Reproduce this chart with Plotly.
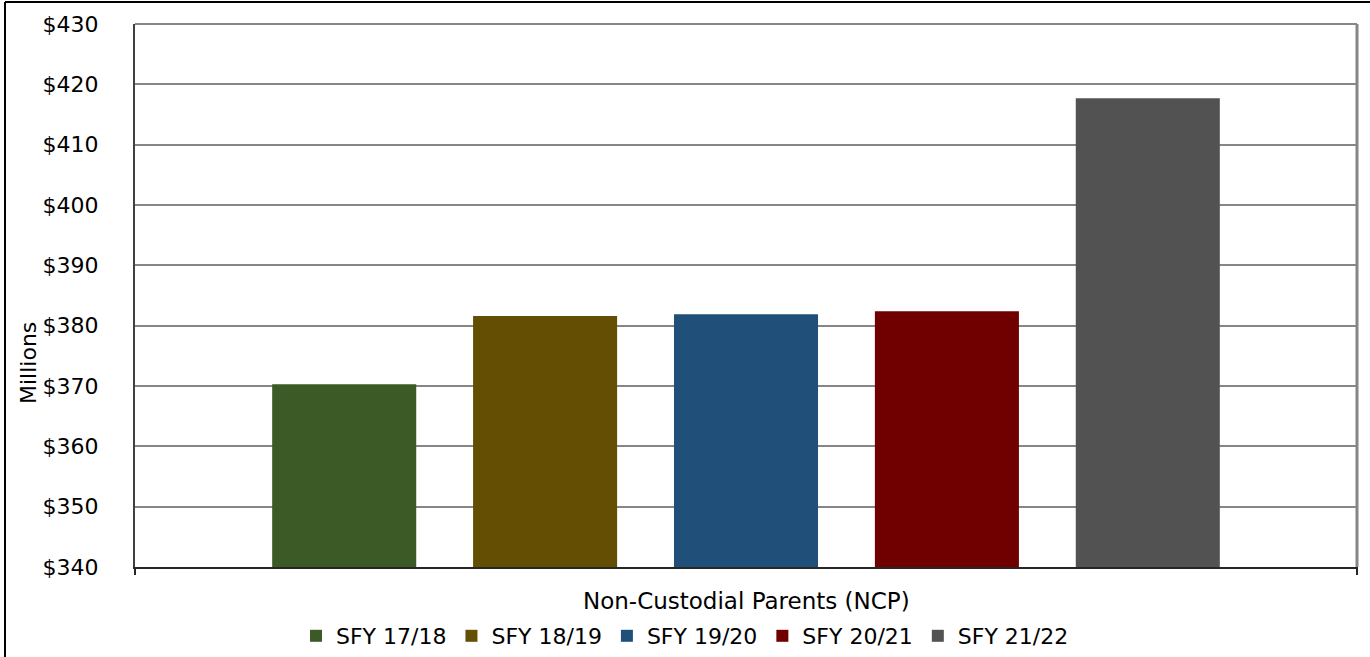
import plotly.graph_objects as go

category = ["Non-Custodial Parents (NCP)"]
series_names = ["SFY 17/18", "SFY 18/19", "SFY 19/20", "SFY 20/21", "SFY 21/22"]
series_values = [370.3, 381.6, 381.9, 382.4, 417.7]
colors = ["#3C5A26", "#634E03", "#20507A", "#700000", "#525252"]
y_ticks = [340, 350, 360, 370, 380, 390, 400, 410, 420, 430]

FONT = "DejaVu Sans, sans-serif"
FS = 22

W, H = 1370, 657
ML, MR, MT, MB = 135, 13, 24, 90
PW, PH = W - ML - MR, H - MT - MB

fig = go.Figure()
for name, val, col in zip(series_names, series_values, colors):
    fig.add_trace(go.Bar(
        x=category, y=[val], name=name, marker=dict(color=col, line=dict(width=0)),
        hoverinfo="name+y",
    ))

fig.update_layout(
    width=W, height=H,
    margin=dict(l=ML, r=MR, t=MT, b=MB, autoexpand=False),
    paper_bgcolor="white", plot_bgcolor="white",
    barmode="group", bargap=0.178, bargroupgap=0.283,
    font=dict(family=FONT, size=FS, color="#000000"),
    showlegend=True,
    legend=dict(orientation="h", x=0.5, xanchor="center", xref="container",
                y=1 - 636 / H, yanchor="middle",
                yref="container", font=dict(size=FS), itemclick=False,
                traceorder="normal"),
    xaxis=dict(showgrid=False, showticklabels=False, ticks="", automargin=False,
               showline=True, linecolor="#262626", linewidth=2),
    yaxis=dict(range=[340, 430], tickvals=y_ticks, automargin=False,
               ticktext=["$" + str(v) for v in y_ticks],
               showgrid=True, gridcolor="#868686", gridwidth=2,
               showline=True, linecolor="#404040", linewidth=2,
               ticks="", ticklabelstandoff=30, zeroline=False,
               tickfont=dict(size=FS)),
    shapes=[
        dict(type="line", xref="paper", yref="paper", x0=1, x1=1, y0=0, y1=1,
             line=dict(color="#868686", width=3)),
        dict(type="line", xref="paper", yref="paper", x0=0, x1=1, y0=1, y1=1,
             line=dict(color="#868686", width=2), layer="below"),
        dict(type="line", xref="paper", yref="paper", x0=0, x1=0, y0=0, y1=-8 / PH,
             line=dict(color="#262626", width=2)),
        dict(type="line", xref="paper", yref="paper", x0=1, x1=1, y0=0, y1=-8 / PH,
             line=dict(color="#262626", width=2)),
        # chart outer border (left and top)
        dict(type="line", xref="paper", yref="paper",
             x0=-130 / PW, x1=-130 / PW, y0=-MB / PH, y1=1 + 22 / PH,
             line=dict(color="#000000", width=2)),
        dict(type="line", xref="paper", yref="paper",
             x0=-130 / PW, x1=1 + MR / PW, y0=1 + 22 / PH, y1=1 + 22 / PH,
             line=dict(color="#000000", width=2)),
    ],
    annotations=[
        dict(text="Millions", xref="paper", yref="paper", x=(28 - ML) / PW,
             y=(H - MB - 363) / PH, xanchor="center", yanchor="middle", textangle=-90,
             showarrow=False, font=dict(size=FS)),
        dict(text="Non-Custodial Parents (NCP)", xref="paper", yref="paper",
             x=0.5, y=-(601 - (H - MB)) / PH, xanchor="center", yanchor="middle",
             showarrow=False, font=dict(size=23)),
    ],
)

fig.write_html("out.html", config={"displayModeBar": False},
               post_script="document.body.style.margin='0';")
